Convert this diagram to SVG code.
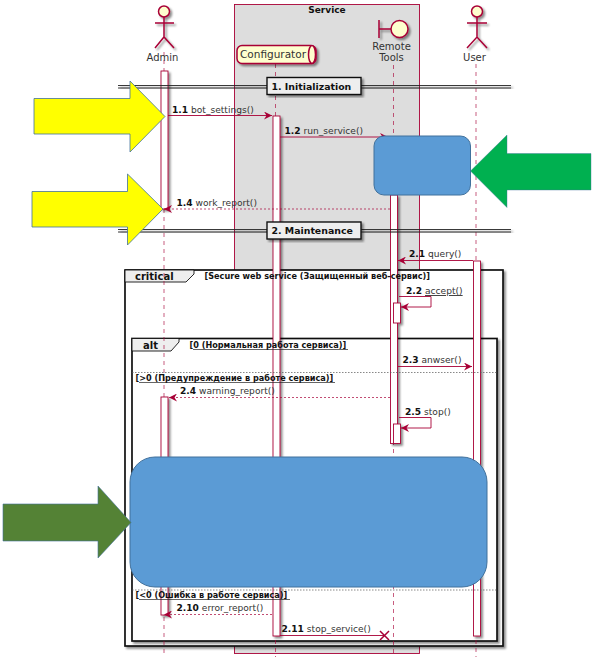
<svg xmlns="http://www.w3.org/2000/svg" width="592" height="659" viewBox="0 0 592 659">
<style>
text{font-family:"DejaVu Sans",sans-serif;font-size:9.1px;fill:#333}
.b{font-weight:bold;fill:#111}
.fr{font-weight:bold;font-size:8.15px;fill:#111}
.big{font-weight:bold;font-size:10px;fill:#111}
.sepl{font-weight:bold;font-size:9.4px;fill:#111}
.lab{font-size:10px}
.ll{stroke:#A80036;stroke-width:.8;stroke-dasharray:4 4;fill:none;opacity:.8}
.act{fill:#fff;stroke:#A80036;stroke-width:.9}
.m{stroke:#A80036;stroke-width:.9;fill:none}
.d{stroke:#A80036;stroke-width:.7;fill:none;stroke-dasharray:2 2}
.actor{fill:#FEFECE;stroke:#A80036;stroke-width:1.5}
.line{stroke:#A80036;stroke-width:1.5;fill:none}
.frame{stroke:#111;stroke-width:1.7}
.tab{fill:#eee;stroke:#111;stroke-width:.9}
.sep{fill:#eee;stroke:#111;stroke-width:1.4}
.dbl{stroke:#222;stroke-width:.9;fill:none}
.blue{fill:#5B9BD5;stroke:#41719C;stroke-width:1}
.u{stroke:#222;stroke-width:.7}
.ds{stroke:#555;stroke-width:.7;stroke-dasharray:1.500 1.500;fill:none}
</style>
<defs>
<filter id="sh" x="-20%" y="-20%" width="140%" height="140%"><feDropShadow dx="2" dy="2" stdDeviation="1.2" flood-color="#000" flood-opacity=".45"/></filter>
<marker id="ah" markerWidth="10" markerHeight="8" refX="8" refY="4" orient="auto" markerUnits="userSpaceOnUse"><path d="M0 0L8 4L0 8L2.500 4Z" fill="#A80036"/></marker>
</defs>
<g id="service">
<rect x="234.500" y="4.500" width="185" height="649" fill="#ddd" stroke="#A80036" stroke-width=".9"/>
<text x="327" y="13" text-anchor="middle" class="big" style="font-size:9px">Service</text>
</g>
<g id="critical">
<rect class="frame" x="125" y="270" width="378" height="376" fill="#fff" filter="url(#sh)"/>
<path class="tab" d="M125 270H194V274L186 282H125Z"/>
<text x="135" y="280" class="big">critical</text>
</g>
<g id="alt">
<rect class="frame" x="132" y="338.500" width="365" height="302.500" fill="#fff" filter="url(#sh)"/>
<path class="tab" d="M132 338.500H179V342L171 351H132Z"/>
<text x="143" y="349" class="big">alt</text>
</g>
<g id="lifelines">
<path class="ll" d="M164 52V71M164 209V657"/>
<path class="ll" d="M275.500 64V657"/>
<path class="ll" d="M393.500 65V657"/>
<path class="ll" d="M476 64V657"/>
</g>
<g id="admin">
<g filter="url(#sh)"><circle class="actor" cx="164" cy="11.500" r="5.500"/><path class="line" d="M164 17V37M155 23H174M155 48L164 37L174 48"/></g>
<text x="162.500" y="61" text-anchor="middle" class="lab">Admin</text>
</g>
<g id="configurator">
<g filter="url(#sh)"><rect class="actor" x="237" y="45.500" width="79" height="18" rx="5"/><ellipse class="actor" cx="312" cy="54.500" rx="3.500" ry="9"/></g>
<text x="273" y="58" text-anchor="middle" style="font-size:10.500px">Configurator</text>
</g>
<g id="remote-tools">
<g filter="url(#sh)"><circle class="actor" cx="399.500" cy="29" r="8.500"/><path class="line" d="M379 20V38M379 29H391"/></g>
<text x="391.500" y="50" text-anchor="middle" class="lab">Remote</text>
<text x="391.500" y="61" text-anchor="middle" class="lab">Tools</text>
</g>
<g id="user">
<g filter="url(#sh)"><circle class="actor" cx="477" cy="11.500" r="5.500"/><path class="line" d="M477 17V37M467 23H487M467 48L477 37L487 48"/></g>
<text x="474.500" y="61" text-anchor="middle" class="lab">User</text>
</g>
<g id="activations">
<g filter="url(#sh)">
<rect class="act" x="161" y="71" width="7" height="138"/>
<rect class="act" x="273" y="116" width="7" height="520"/>
<rect class="act" x="390.500" y="195" width="7" height="248.500"/>
<rect class="act" x="393.500" y="303" width="7" height="20"/>
<rect class="act" x="393.500" y="424" width="7" height="19.500"/>
<rect class="act" x="473.500" y="261" width="7" height="375"/>
<rect class="act" x="161" y="397" width="7" height="218"/>
</g>
</g>
<g id="frame-labels">
<text x="204.500" y="279" class="fr">[Secure web service (Защищенный веб-сервис)]</text>
<text x="189.500" y="347.500" class="fr">[0 (Нормальная работа сервиса)]</text>
<path class="u" d="M193 349.500H348"/>
<path class="ds" d="M132 372.500H497"/>
<text x="135.500" y="381" class="fr">[&gt;0 (Предупреждение в работе сервиса)]</text>
<path class="u" d="M139 382.500H335"/>
<path class="ds" d="M132 590H497"/>
<text x="135.500" y="598" class="fr">[&lt;0 (Ошибка в работе сервиса)]</text>
<path class="u" d="M139 599.500H290"/>
</g>
<g id="dividers">
<path class="dbl" d="M118 85.500H267M361 85.500H511M118 88H267M361 88H511" filter="url(#sh)"/>
<rect class="sep" x="267" y="77.500" width="94" height="17" filter="url(#sh)"/>
<text x="271.500" y="89.500" class="sepl">1. Initialization</text>
<path class="dbl" d="M118 229.500H267M361 229.500H511M118 232H267M361 232H511" filter="url(#sh)"/>
<rect class="sep" x="267" y="222" width="94" height="17" filter="url(#sh)"/>
<text x="271.500" y="234" class="sepl">2. Maintenance</text>
</g>
<g id="connectors">
<path class="m" d="M168 115.500H272" marker-end="url(#ah)"/>
<path class="m" d="M280 137H388" marker-end="url(#ah)"/>
<path class="d" d="M390 209H164" marker-end="url(#ah)"/>
<path class="m" d="M473 260.500H398" marker-end="url(#ah)"/>
<path class="m" d="M399 296.500H431V307H401" marker-end="url(#ah)"/>
<path class="m" d="M398 366.500H472" marker-end="url(#ah)"/>
<path class="d" d="M390 397.500H169" marker-end="url(#ah)"/>
<path class="m" d="M399 417.500H431V428H401" marker-end="url(#ah)"/>
<path class="d" d="M272 614.500H164" marker-end="url(#ah)"/>
<path class="m" d="M280 635.500H384"/>
<path d="M380 631L389 640M389 631L380 640" stroke="#A80036" stroke-width="1.500" fill="none"/>
</g>
<g id="message-labels">
<text x="172" y="113"><tspan class="b">1.1</tspan> bot_settings()</text>
<text x="284.500" y="134"><tspan class="b">1.2</tspan> run_service()</text>
<text x="176.500" y="205.500"><tspan class="b">1.4</tspan> work_report()</text>
<text x="409" y="257"><tspan class="b">2.1</tspan> query()</text>
<text x="406" y="294"><tspan class="b">2.2</tspan> <tspan text-decoration="underline">accept()</tspan></text>
<text x="402.500" y="363"><tspan class="b">2.3</tspan> anwser()</text>
<text x="180" y="394"><tspan class="b">2.4</tspan> warning_report()</text>
<text x="405" y="415"><tspan class="b">2.5</tspan> stop()</text>
<text x="176.500" y="611"><tspan class="b">2.10</tspan> error_report()</text>
<text x="281.500" y="632"><tspan class="b">2.11</tspan> stop_service()</text>
</g>
<g id="callouts">
<rect id="blue-small" class="blue" x="374" y="136" width="96.500" height="59" rx="10"/>
<rect id="blue-large" class="blue" x="130" y="457" width="357" height="130" rx="25"/>
<path id="arrow-yellow-1" d="M34 98.500H130V81L165 116.500L130 152V134H34Z" fill="#FF0" stroke="#41719C" stroke-width=".8"/>
<path id="arrow-yellow-2" d="M32 191.500H127.500V174L163 209L127.500 245V227H32Z" fill="#FF0" stroke="#41719C" stroke-width=".8"/>
<path id="arrow-green" d="M591 153.500H507V135L470.500 171L507 207.500V190H591Z" fill="#00B050" stroke="#41719C" stroke-width=".4"/>
<path id="arrow-darkgreen" d="M3 504H98V486L131 522.500L98 558V541H3Z" fill="#548235" stroke="#41719C" stroke-width=".6"/>
</g>
</svg>
